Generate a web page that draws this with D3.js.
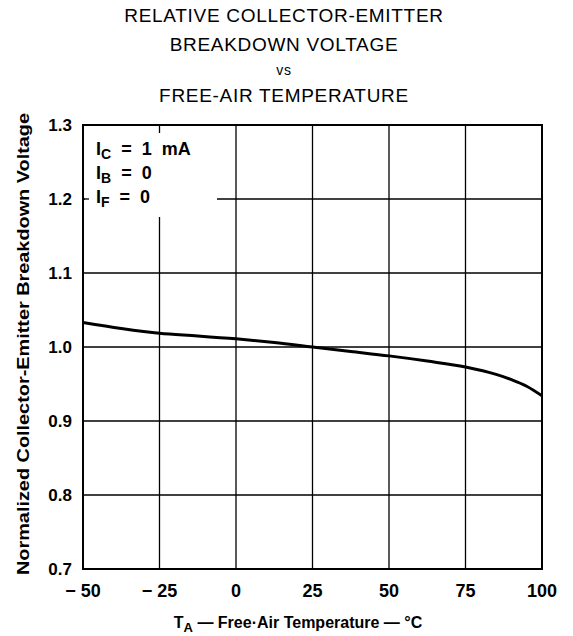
<!DOCTYPE html>
<head>
<meta charset="utf-8">
<style>
body { margin: 0; background: #fff; }
text { font-family: "Liberation Sans", Arial, sans-serif; fill: #000; }
</style>
</head>
<body>
<script src="https://d3js.org/d3.v7.min.js"></script>
<script>
// values
var temps = [-50, -37.5, -25, -12.5, 0, 12.5, 25, 37.5, 50, 62.5, 75, 85, 90, 95, 100];
var vbr   = [1.033, 1.025, 1.0185, 1.015, 1.011, 1.006, 1.0, 0.994, 0.988, 0.981, 0.973, 0.963, 0.956, 0.947, 0.934];
var xTicks = [-50, -25, 0, 25, 50, 75, 100];
var yTicks = [0.7, 0.8, 0.9, 1.0, 1.1, 1.2, 1.3];
var titleLines = ["RELATIVE COLLECTOR-EMITTER", "BREAKDOWN VOLTAGE", "vs", "FREE-AIR TEMPERATURE"];

width = 573, height = 636;
var L = 83, R = 542, T = 125, B = 569;

svg = d3.select("body").append("svg")
    .attr("width", width)
    .attr("height", height);

x = d3.scaleLinear().domain([-50, 100]).range([L, R]);
y = d3.scaleLinear().domain([0.7, 1.3]).range([B, T]);

// title
var titleY = [22, 51, 75, 102];
svg.selectAll(".title").data(titleLines).enter().append("text")
    .attr("x", 284)
    .attr("y", function (d, i) { return titleY[i]; })
    .attr("text-anchor", "middle")
    .attr("font-size", function (d, i) { return i == 2 ? 14 : 19; })
    .attr("letter-spacing", 0.7)
    .text(function (d) { return d; });

// grid
svg.selectAll(".vg").data(xTicks.slice(1, -1)).enter().append("line")
    .attr("x1", d => x(d)).attr("x2", d => x(d))
    .attr("y1", T).attr("y2", B)
    .attr("stroke", "#000").attr("stroke-width", 1.3);
svg.selectAll(".hg").data(yTicks.slice(1, -1)).enter().append("line")
    .attr("x1", L).attr("x2", R)
    .attr("y1", d => y(d)).attr("y2", d => y(d))
    .attr("stroke", "#000").attr("stroke-width", 1.3);

// white patch behind the conditions text
svg.append("rect")
    .attr("x", L + 2).attr("y", T + 8)
    .attr("width", 132).attr("height", 84)
    .attr("fill", "#fff");
svg.append("line")
    .attr("x1", L).attr("x2", L + 6)
    .attr("y1", y(1.2)).attr("y2", y(1.2))
    .attr("stroke", "#000").attr("stroke-width", 1.3);

// frame
svg.append("rect")
    .attr("x", L).attr("y", T)
    .attr("width", R - L).attr("height", B - T)
    .attr("fill", "none").attr("stroke", "#000").attr("stroke-width", 2);

// curve
line = d3.line()
    .x(function (d, i) { return x(temps[i]); })
    .y(function (d) { return y(d); })
    .curve(d3.curveMonotoneX);
svg.append("path")
    .datum(vbr)
    .attr("d", line)
    .attr("fill", "none")
    .attr("stroke", "#000")
    .attr("stroke-width", 3);

// tick labels
svg.selectAll(".yl").data(yTicks).enter().append("text")
    .attr("x", L - 11)
    .attr("y", d => y(d))
    .attr("dy", "0.36em")
    .attr("text-anchor", "end")
    .attr("font-size", 17)
    .attr("font-weight", "bold")
    .text(d => d3.format(".1f")(d));
svg.selectAll(".xl").data(xTicks).enter().append("text")
    .attr("x", d => x(d))
    .attr("y", 597)
    .attr("text-anchor", "middle")
    .attr("font-size", 18)
    .attr("font-weight", "bold")
    .text(d => d < 0 ? "\u2212 " + Math.abs(d) : d);

// axis titles
var xt = svg.append("text")
    .attr("x", 298).attr("y", 628)
    .attr("text-anchor", "middle")
    .attr("font-size", 16)
    .attr("font-weight", "bold");
xt.append("tspan").text("T");
xt.append("tspan").attr("font-size", 13).attr("dy", 4).text("A");
xt.append("tspan").attr("dy", -4).text(" \u2014 Free\u00b7Air Temperature \u2014 \u00b0C");

svg.append("text")
    .attr("transform", "translate(29," + 344 + ") rotate(-90)")
    .attr("text-anchor", "middle")
    .attr("font-size", 16)
    .attr("font-weight", "bold")
    .attr("textLength", 462)
    .attr("lengthAdjust", "spacingAndGlyphs")
    .text("Normalized Collector-Emitter Breakdown Voltage");

// conditions
var cond = [["C", "  =  1  mA"], ["B", "  =  0"], ["F", "  =  0"]];
var condY = [155, 179, 203];
cond.forEach(function (c, i) {
    var t = svg.append("text")
        .attr("x", 96).attr("y", condY[i])
        .attr("font-size", 18)
        .attr("font-weight", "bold")
        .attr("xml:space", "preserve");
    t.append("tspan").text("I");
    t.append("tspan").attr("font-size", 14).attr("dy", 4).text(c[0]);
    t.append("tspan").attr("dy", -4).text(c[1]);
});
</script>
</body>
